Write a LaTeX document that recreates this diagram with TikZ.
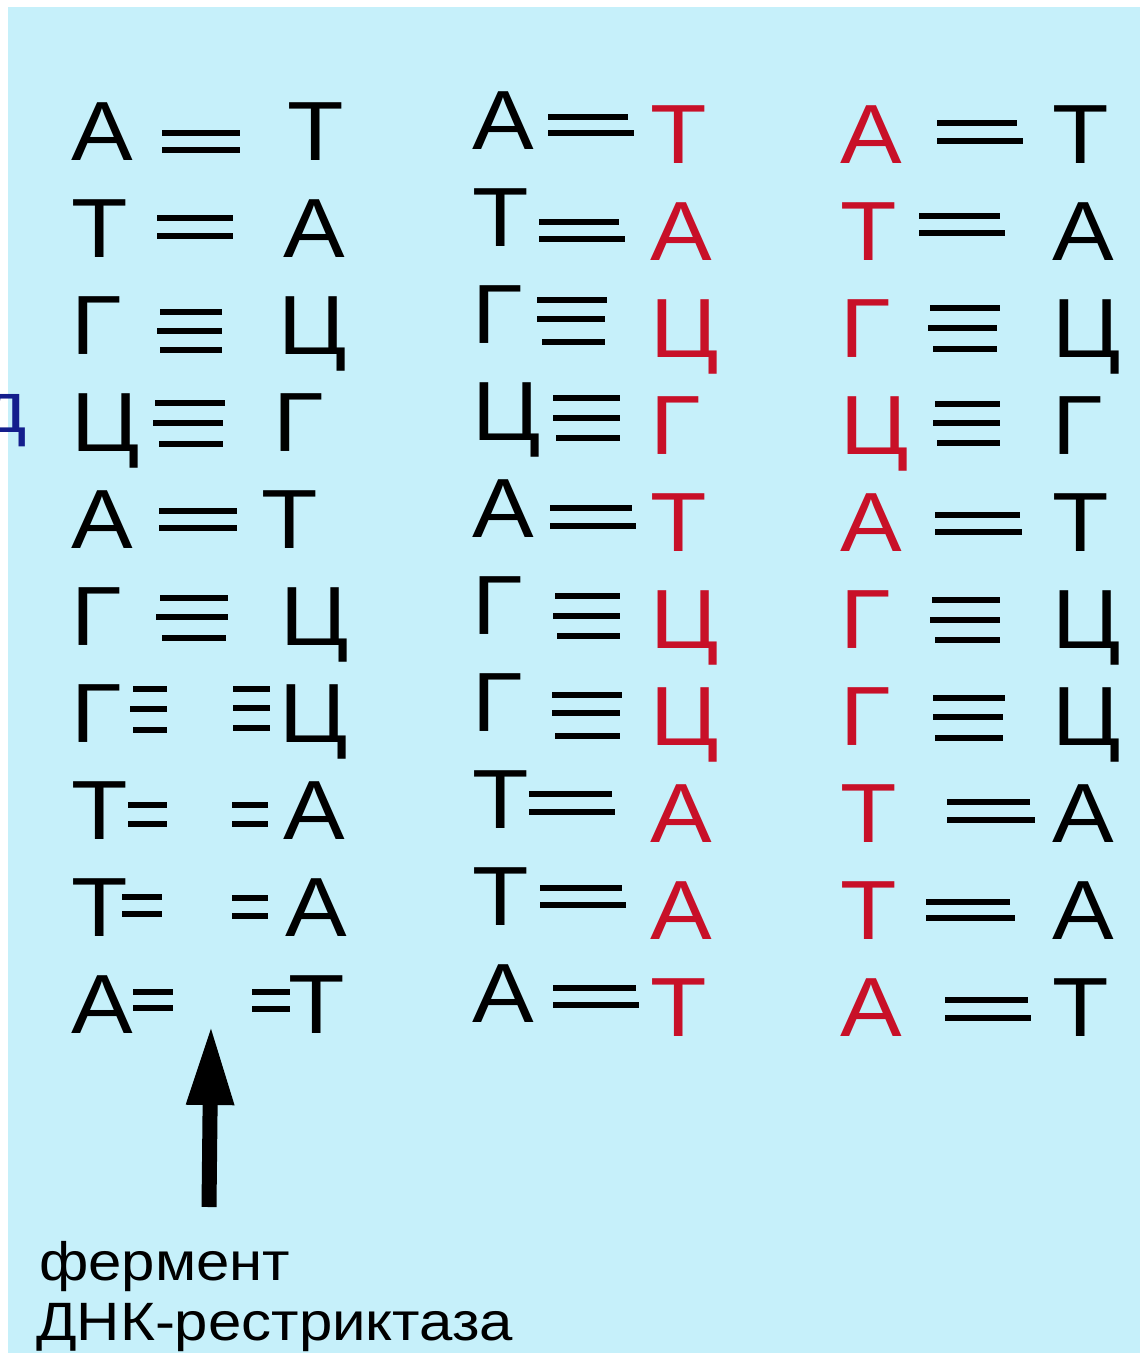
\documentclass[tikz,border=0pt]{standalone}
\usepackage{fontspec}
\setmainfont{Liberation Sans}
\newfontfamily\basefont[FakeStretch=1.1]{Liberation Sans}
\newfontfamily\capfont[FakeStretch=1.11]{Liberation Sans}
\usetikzlibrary{arrows.meta}
\definecolor{bgcyan}{RGB}{198,240,250}
\definecolor{dnared}{RGB}{200,16,40}
\definecolor{navyblue}{RGB}{20,30,140}
\begin{document}
\begin{tikzpicture}[x=1pt,y=-1pt,
  nuc/.style={inner sep=0pt, outer sep=0pt, anchor=base west,
    font=\basefont\fontsize{84}{84}\selectfont, text=black},
  rednuc/.style={nuc, text=dnared},
  bond/.style={line width=6pt, black},
  caption/.style={inner sep=0pt, anchor=base west,
    font=\capfont\fontsize{54}{60}\selectfont, text=black}]
\useasboundingbox (0,0) rectangle (1147,1353);
\fill[white] (0,0) rectangle (1147,1353);
\fill[bgcyan] (8,7) rectangle (1140,1353);

% clipped letter at the left edge
\node[inner sep=0pt, anchor=base west, text=navyblue,
  font=\basefont\fontsize{72}{72}\selectfont] (edge) at (-20,432) {д};

% ---------- column 1 ----------
\foreach \l [count=\i] in {А,Т,Г,Ц,А,Г,Г,Т,Т,А}
  \node[nuc] (a\i) at (71,{160+97*(\i-1)}) {\l};
\node[nuc] (b1) at (287,160) {Т};
\node[nuc] (b2) at (283,257) {А};
\node[nuc] (b3) at (278,354) {Ц};
\node[nuc] (b4) at (273,451) {Г};
\node[nuc] (b5) at (261,548) {Т};
\node[nuc] (b6) at (280,645) {Ц};
\node[nuc] (b7) at (279,742) {Ц};
\node[nuc] (b8) at (283,839) {А};
\node[nuc] (b9) at (285,936) {А};
\node[nuc] (b10) at (288,1033) {Т};

% ---------- column 2 ----------
\foreach \l [count=\i] in {А,Т,Г,Ц,А,Г,Г,Т,Т,А}
  \node[nuc] (c\i) at (472,{149+97*(\i-1)}) {\l};
\foreach \l [count=\i] in {Т,А,Ц,Г,Т,Ц,Ц,А,А,Т}
  \node[rednuc] (d\i) at (650,{163+97*(\i-1)}) {\l};

% ---------- column 3 ----------
\foreach \l [count=\i] in {А,Т,Г,Ц,А,Г,Г,Т,Т,А}
  \node[rednuc] (e\i) at (840,{163+97*(\i-1)}) {\l};
\foreach \l [count=\i] in {Т,А,Ц,Г,Т,Ц,Ц,А,А,Т}
  \node[nuc] (f\i) at (1052,{163+97*(\i-1)}) {\l};

% ---------- bonds, column 1 ----------
\draw[bond] (162,133)--(240,133) (162,150)--(240,150);
\draw[bond] (157,218)--(233,218) (157,236)--(233,236);
\draw[bond] (160,312)--(222,312) (157,331)--(222,331) (160,350)--(222,350);
\draw[bond] (155,403)--(225,403) (153,423)--(223,423) (159,444)--(223,444);
\draw[bond] (159,511)--(237,511) (159,528)--(237,528);
\draw[bond] (160,598)--(228,598) (156,617)--(228,617) (162,638)--(226,638);
\draw[bond] (133,689)--(167,689) (130,709)--(167,709) (133,730)--(167,730);
\draw[bond] (233,689)--(270,689) (233,708)--(270,708) (233,728)--(270,728);
\draw[bond] (128,805)--(167,805) (128,824)--(167,824);
\draw[bond] (232,805)--(268,805) (232,824)--(268,824);
\draw[bond] (122,897)--(162,897) (122,914)--(162,914);
\draw[bond] (232,898)--(268,898) (232,916)--(268,916);
\draw[bond] (133,992)--(173,992) (133,1008)--(173,1008);
\draw[bond] (252,992)--(290,992) (252,1009)--(290,1009);

% ---------- bonds, column 2 ----------
\draw[bond] (548,117)--(628,117) (548,133)--(634,133);
\draw[bond] (539,222)--(619,222) (539,239)--(625,239);
\draw[bond] (537,300)--(607,300) (537,319)--(605,319) (542,342)--(605,342);
\draw[bond] (553,398)--(620,398) (553,418)--(620,418) (556,438)--(620,438);
\draw[bond] (550,508)--(632,508) (550,526)--(636,526);
\draw[bond] (555,596)--(620,596) (553,616)--(620,616) (557,636)--(620,636);
\draw[bond] (552,695)--(622,695) (552,713)--(620,713) (555,736)--(620,736);
\draw[bond] (529,794)--(612,794) (529,812)--(615,812);
\draw[bond] (540,888)--(622,888) (540,905)--(626,905);
\draw[bond] (553,988)--(636,988) (553,1005)--(639,1005);

% ---------- bonds, column 3 ----------
\draw[bond] (937,123)--(1017,123) (937,141)--(1023,141);
\draw[bond] (919,216)--(1000,216) (919,233)--(1005,233);
\draw[bond] (930,308)--(1000,308) (928,328)--(997,328) (933,349)--(997,349);
\draw[bond] (935,404)--(1000,404) (933,423)--(1000,423) (937,443)--(1000,443);
\draw[bond] (935,515)--(1020,515) (935,532)--(1022,532);
\draw[bond] (932,600)--(1000,600) (930,620)--(1000,620) (935,640)--(1000,640);
\draw[bond] (933,698)--(1005,698) (933,717)--(1003,717) (935,738)--(1003,738);
\draw[bond] (947,802)--(1030,802) (947,820)--(1035,820);
\draw[bond] (926,902)--(1010,902) (926,918)--(1015,918);
\draw[bond] (945,1000)--(1028,1000) (945,1018)--(1031,1018);

% ---------- arrow and caption ----------
\node[caption] (enz) at (39,1280) {фермент};
\node[caption] (restr) at (36,1340) {ДНК-рестриктаза};
\coordinate (arrowfoot) at (209,1207);
\coordinate (arrowtip) at (211,1025);
\draw[line width=15pt, -{Triangle[length=80pt,width=44pt]}] (arrowfoot) -- (arrowtip);
\end{tikzpicture}
\end{document}
